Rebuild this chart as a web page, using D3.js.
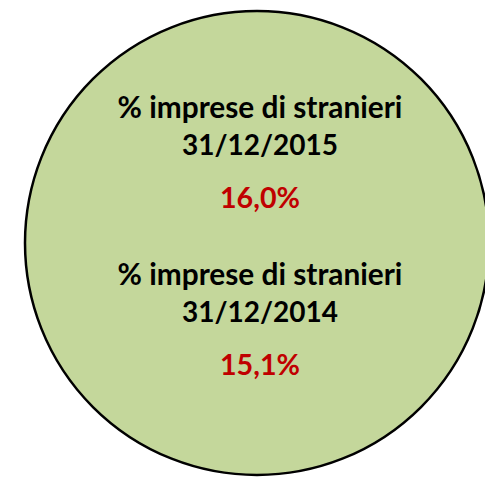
<!DOCTYPE html>
<html>
<head>
<meta charset="utf-8">
<script src="https://cdn.jsdelivr.net/npm/d3@7"></script>
<style>
  body { margin: 0; background: #fff; }
</style>
</head>
<body>
<div id="chart"></div>
<script>
// data
const labels = ["% imprese di stranieri", "% imprese di stranieri"];
const dates = ["31/12/2015", "31/12/2014"];
const values = [16.0, 15.1];

const width = 485, height = 477;
const fmt = v => v.toFixed(1).replace(".", ",") + "%";

const svg = d3.select("#chart").append("svg")
    .attr("width", width)
    .attr("height", height);

// circle
svg.append("circle")
    .attr("cx", 257)
    .attr("cy", 243)
    .attr("r", 232)
    .attr("fill", "#c4d79b")
    .attr("stroke", "#000")
    .attr("stroke-width", 2.5);

// text blocks
const blockY = d3.scaleBand().domain(d3.range(values.length)).range([118, 118 + 2 * 167]);
const cx = 260;

function fitText(sel, target) {
    let w = sel.node().getComputedTextLength();
    let fs = parseFloat(sel.attr("font-size"));
    sel.attr("font-size", fs * target / w);
}

values.forEach(function(v, i) {
    let y0 = blockY(i);
    let g = svg.append("g").attr("font-family", "Lato, 'Open Sans', sans-serif").attr("font-weight", 700)
        .attr("text-anchor", "middle");
    let t1 = g.append("text").attr("x", cx).attr("y", y0).attr("font-size", 26).attr("fill", "#000").text(labels[i]);
    fitText(t1, 285);
    let t2 = g.append("text").attr("x", cx).attr("y", y0 + 37).attr("font-size", 26).attr("fill", "#000").text(dates[i]);
    fitText(t2, 156);
    let t3 = g.append("text").attr("x", cx).attr("y", y0 + 90).attr("font-size", 26).attr("fill", "#c00000").text(fmt(v));
    fitText(t3, 80);
});
</script>
</body>
</html>
